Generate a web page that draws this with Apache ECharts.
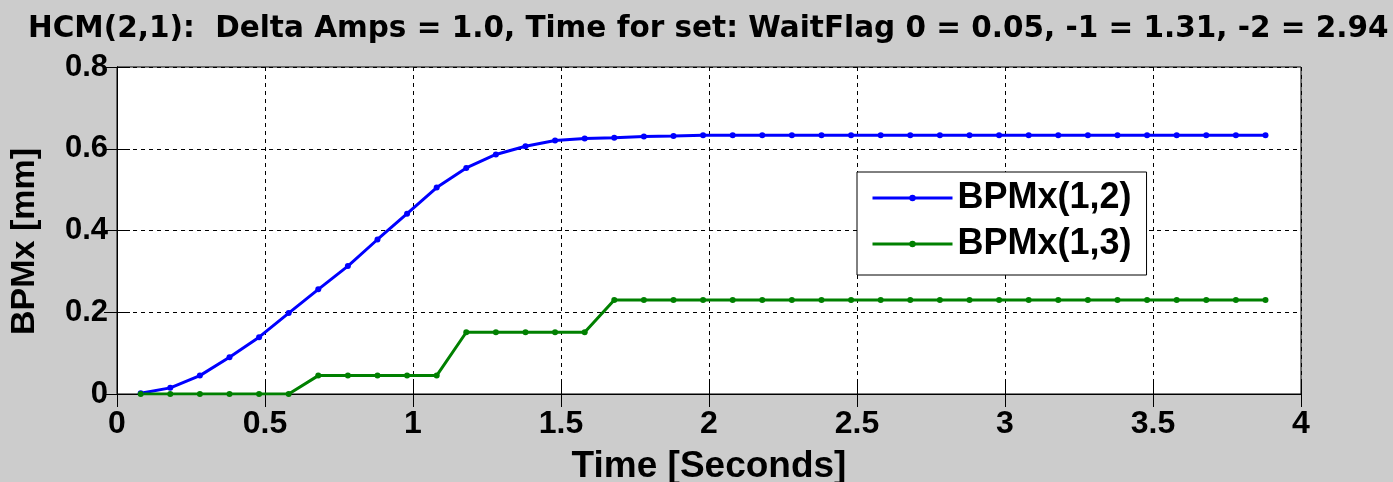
<!DOCTYPE html>
<html>
<head>
<meta charset="utf-8">
<script src="https://cdn.jsdelivr.net/npm/echarts@6/dist/echarts.min.js"></script>
<style>
html,body{margin:0;padding:0;background:#cccccc;}
#c{width:1393px;height:482px;}
</style>
</head>
<body>
<div id="c"></div>
<script>
var titleText = 'HCM(2,1):  Delta Amps = 1.0, Time for set: WaitFlag 0 = 0.05, -1 = 1.31, -2 = 2.94';
var xName = 'Time [Seconds]';
var yName = 'BPMx [mm]';
var seriesNames = ['BPMx(1,2)','BPMx(1,3)'];
var times = [0.08,0.18,0.28,0.38,0.48,0.58,0.68,0.78,0.88,0.98,1.08,1.18,1.28,1.38,1.48,1.58,1.68,1.78,1.88,1.98,2.08,2.18,2.28,2.38,2.48,2.58,2.68,2.78,2.88,2.98,3.08,3.18,3.28,3.38,3.48,3.58,3.68,3.78,3.88];
var bpm12 = [0.002,0.015,0.045,0.090,0.139,0.198,0.256,0.313,0.378,0.441,0.505,0.553,0.586,0.606,0.620,0.625,0.627,0.630,0.631,0.633,0.633,0.633,0.633,0.633,0.633,0.633,0.633,0.633,0.633,0.633,0.633,0.633,0.633,0.633,0.633,0.633,0.633,0.633,0.633];
var bpm13 = [0,0,0,0,0,0,0.045,0.045,0.045,0.045,0.045,0.151,0.151,0.151,0.151,0.151,0.230,0.230,0.230,0.230,0.230,0.230,0.230,0.230,0.230,0.230,0.230,0.230,0.230,0.230,0.230,0.230,0.230,0.230,0.230,0.230,0.230,0.230,0.230];
var xTicks = {min:0, max:4, interval:0.5};
var yTicks = {min:0, max:0.8, interval:0.2};

function pairs(xs, ys){ return xs.map(function(x,i){return [x, ys[i]];}); }

var chart = echarts.init(document.getElementById('c'), null, {renderer:'canvas'});
var F = '"Liberation Sans", Arial, sans-serif';
var FW = '"DejaVu Sans", sans-serif';
var grid = {left:117, right:92, top:67, bottom:88, show:true, backgroundColor:'#ffffff', borderColor:'#000', borderWidth:1, containLabel:false, outerBoundsMode:'none'};
var dash = {color:'#000', width:1, type:[4,4]};
chart.setOption({
  backgroundColor:'#cccccc',
  animation:false,
  title:{text:titleText, left:23, top:9, textStyle:{fontFamily:FW, fontWeight:'bold', fontSize:29.5, color:'#000'}},
  grid:grid,
  graphic:[{
    type:'text', left:8, top:148, rotation:Math.PI/2,
    style:{text:yName, fontFamily:F, fontWeight:'bold', fontSize:34, fill:'#000'}
  }],
  legend:{
    orient:'vertical', left:857, top:172,
    backgroundColor:'#fff', borderColor:'#000', borderWidth:1, borderRadius:0,
    padding:[8,15,13,14], itemGap:10, itemWidth:80, itemHeight:8,
    lineStyle:{width:3},
    textStyle:{fontFamily:F, fontWeight:'bold', fontSize:36, color:'#000'},
    data:seriesNames
  },
  xAxis:[{
    type:'value', min:xTicks.min, max:xTicks.max, interval:xTicks.interval,
    name:xName, nameLocation:'middle', nameGap:54,
    nameTextStyle:{fontFamily:F, fontWeight:'bold', fontSize:37, color:'#000'},
    axisLine:{show:true, lineStyle:{color:'#000', width:1}},
    axisTick:{show:true, inside:true, length:13, lineStyle:{color:'#000'}},
    axisLabel:{fontFamily:F, fontWeight:'bold', fontSize:32, color:'#000', margin:14},
    splitLine:{show:true, lineStyle:dash}
  },{
    type:'value', position:'top', min:xTicks.min, max:xTicks.max, interval:xTicks.interval,
    axisLine:{show:true, lineStyle:{color:'#000'}},
    axisTick:{show:true, inside:true, length:13, lineStyle:{color:'#000'}},
    axisLabel:{show:false}, splitLine:{show:false}
  }],
  yAxis:[{
    type:'value', min:yTicks.min, max:yTicks.max, interval:yTicks.interval,
    axisLine:{show:true, lineStyle:{color:'#000', width:1}},
    axisTick:{show:true, inside:true, length:13, lineStyle:{color:'#000'}},
    axisLabel:{fontFamily:F, fontWeight:'bold', fontSize:31, color:'#000', margin:9,
      formatter:function(v){return v===0?'0':v.toFixed(1);}},
    splitLine:{show:true, lineStyle:dash}
  },{
    type:'value', position:'right', min:yTicks.min, max:yTicks.max, interval:yTicks.interval,
    axisLine:{show:true, lineStyle:{color:'#000'}},
    axisTick:{show:true, inside:true, length:13, lineStyle:{color:'#000'}},
    axisLabel:{show:false}, splitLine:{show:false}
  }],
  series:[{
    name:seriesNames[0], type:'line', xAxisIndex:0, yAxisIndex:0,
    data:pairs(times,bpm12), symbol:'circle', symbolSize:6,
    lineStyle:{color:'#0000ff', width:3}, itemStyle:{color:'#0000ff'}
  },{
    name:seriesNames[1], type:'line', xAxisIndex:0, yAxisIndex:0,
    data:pairs(times,bpm13), symbol:'circle', symbolSize:6,
    lineStyle:{color:'#008000', width:3}, itemStyle:{color:'#008000'}
  }]
});
</script>
</body>
</html>
